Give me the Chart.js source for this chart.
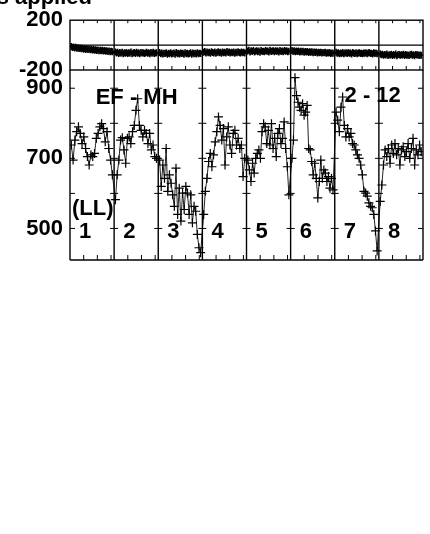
<!DOCTYPE html>
<html><head><meta charset="utf-8">
<script src="https://cdn.jsdelivr.net/npm/chart.js@4"></script>
<style>
html,body{margin:0;padding:0;background:#fff;width:430px;height:534px;overflow:hidden}
canvas{position:absolute;left:0;top:0}
</style></head><body>
<canvas id="topChart" width="430" height="534"></canvas>
<canvas id="botChart" width="430" height="534"></canvas>
<script>
// ---- labels ----
const segmentNames = ['1','2','3','4','5','6','7','8'];
const topTickValues = [-200, 200];
const topTickLabels = ['-200', '200'];
const bottomTickValues = [500, 600, 700, 800, 900];
const bottomTickLabels = ['500', '', '700', '', '900'];
const titleText = 's applied';
const pairLabel = 'EF - MH';
const rangeLabel = '2 - 12';
const noteLabel = '(LL)';

// ---- top panel: differences per segment ----
const diffSeg1 = [-12,-20,-16,-24,-18,-26,-21,-28,-24,-30,-26,-33,-28,-35,-30,-36,-32,-38,-34,-40,-36,-41,-37,-43,-39,-45,-41,-46,-42,-48,-44,-50,-46,-51,-47,-53,-49,-54];
const diffSeg2 = [-55,-64,-58,-68,-60,-66,-57,-70,-62,-65,-59,-68,-61,-66,-56,-69,-63,-60,-67,-58,-65,-62,-70,-59,-64,-61,-67,-63,-58,-66,-62,-69,-60,-65,-57,-68,-63,-61];
const diffSeg3 = [-60,-70,-63,-72,-65,-68,-61,-74,-66,-70,-62,-71,-67,-64,-73,-60,-69,-65,-72,-63,-68,-66,-74,-62,-70,-65,-71,-67,-61,-73,-64,-69,-66,-72,-62,-70,-65,-68];
const diffSeg4 = [-58,-52,-64,-55,-62,-57,-66,-54,-60,-63,-56,-65,-59,-53,-62,-58,-66,-55,-61,-57,-64,-52,-60,-56,-63,-58,-61,-55,-65,-57,-62,-54,-60,-64,-56,-61,-58,-63];
const diffSeg5 = [-48,-42,-55,-46,-52,-44,-56,-49,-45,-53,-47,-58,-43,-51,-49,-54,-44,-50,-47,-55,-42,-52,-48,-46,-53,-45,-50,-47,-56,-44,-51,-48,-54,-43,-50,-46,-53,-49];
const diffSeg6 = [-44,-51,-46,-54,-48,-52,-47,-56,-50,-54,-49,-57,-52,-55,-51,-59,-54,-57,-53,-61,-56,-59,-55,-63,-58,-61,-57,-64,-60,-62,-58,-66,-61,-64,-60,-67,-63,-65];
const diffSeg7 = [-58,-66,-61,-69,-63,-67,-60,-70,-64,-62,-68,-59,-66,-63,-71,-60,-65,-68,-62,-70,-64,-61,-67,-65,-69,-63,-66,-62,-70,-64,-60,-68,-65,-71,-62,-67,-64,-69];
const diffSeg8 = [-70,-78,-73,-82,-75,-80,-72,-84,-77,-79,-74,-83,-76,-81,-72,-85,-78,-75,-82,-77,-80,-74,-84,-76,-81,-79,-83,-77,-73,-82,-78,-85,-75,-80,-77,-84,-79,-81];

// ---- bottom panel: values per segment ----
const ampSeg1 = [738,695,752,776,790,771,742,761,728,705,681,710,705,714,757,771,790,799,785,747,776,728,695,653];
const ampSeg2 = [582,653,695,752,759,724,686,757,761,742,776,794,837,870,794,780,761,780,771,742,771,724,738,705,700];
const ampSeg3 = [695,620,681,643,728,606,653,629,596,563,672,540,615,521,601,554,620,601,540,596,516,563,549,483,445,431];
const ampSeg4 = [540,606,643,691,714,676,710,747,776,818,794,752,785,681,761,790,738,714,771,780,738,757,728,738,648,700];
const ampSeg5 = [695,667,634,686,658,700,714,724,700,776,799,790,742,780,738,799,728,757,705,771,785,742,757,804,728,676,596];
const ampSeg6 = [700,752,930,879,860,846,837,856,823,832,851,728,724,691,653,686,643,587,634,695,643,667,658,634,648,615,643,610];
const ampSeg7 = [832,809,776,846,875,794,761,785,761,771,742,738,724,710,700,681,653,606,601,592,573,563,559,540,493,436];
const ampSeg8 = [577,624,681,724,705,728,686,738,714,742,710,728,681,724,733,705,719,742,700,728,757,681,724,710,738,719];

const diffSegments = [diffSeg1,diffSeg2,diffSeg3,diffSeg4,diffSeg5,diffSeg6,diffSeg7,diffSeg8];
const ampSegments = [ampSeg1,ampSeg2,ampSeg3,ampSeg4,ampSeg5,ampSeg6,ampSeg7,ampSeg8];

function buildPoints(segs) {
  const pts = [];
  segs.forEach((arr, s) => {
    const n = arr.length;
    arr.forEach((v, i) => pts.push({x: s + 0.03 + 0.93 * i / (n - 1), y: v}));
  });
  return pts;
}

const FONT = 'Liberation Sans, Arial, Helvetica, sans-serif';
const minorOffsets = [0.31, 0.62, 0.93];

function seg(ctx, x1, y1, x2, y2) {
  ctx.beginPath(); ctx.moveTo(x1, y1); ctx.lineTo(x2, y2); ctx.stroke();
}

const topFrame = {
  id: 'topFrame',
  afterDraw(chart) {
    const {ctx, chartArea: a, scales: {x, y}} = chart;
    ctx.save();
    ctx.strokeStyle = '#000'; ctx.lineWidth = 1.4;
    ctx.strokeRect(a.left, a.top, a.right - a.left, a.bottom - a.top);
    const y0 = y.getPixelForValue(0);
    seg(ctx, a.left, y0, a.right, y0);
    for (let s = 1; s < 8; s++) { const px = x.getPixelForValue(s); seg(ctx, px, a.top, px, a.bottom); }
    ctx.lineWidth = 1;
    for (let s = 0; s < 8; s++) for (const o of minorOffsets) {
      const px = x.getPixelForValue(s + o);
      seg(ctx, px, a.top, px, a.top + 3);
      seg(ctx, px, a.bottom, px, a.bottom - 4);
    }
    ctx.fillStyle = '#000';
    ctx.font = 'bold 22px ' + FONT;
    ctx.textAlign = 'right'; ctx.textBaseline = 'alphabetic';
    ctx.fillText(titleText, 92, 4);
    ctx.restore();
  }
};

const bottomFrame = {
  id: 'bottomFrame',
  afterDraw(chart) {
    const {ctx, chartArea: a, scales: {x, y}} = chart;
    ctx.save();
    ctx.strokeStyle = '#000'; ctx.lineWidth = 1.4;
    seg(ctx, a.left, a.top, a.left, a.bottom);
    seg(ctx, a.right, a.top, a.right, a.bottom);
    seg(ctx, a.left, a.bottom, a.right, a.bottom);
    for (let s = 1; s < 8; s++) { const px = x.getPixelForValue(s); seg(ctx, px, a.top, px, a.bottom); }
    ctx.lineWidth = 1;
    for (const v of bottomTickValues) {
      const py = y.getPixelForValue(v);
      seg(ctx, a.left, py, a.left + 5, py);
      seg(ctx, a.right - 5, py, a.right, py);
      for (let s = 1; s < 8; s++) { const px = x.getPixelForValue(s); seg(ctx, px - 4, py, px + 4, py); }
    }
    for (let s = 0; s < 8; s++) for (const o of minorOffsets) {
      const px = x.getPixelForValue(s + o);
      seg(ctx, px, a.bottom, px, a.bottom - 5);
    }
    ctx.fillStyle = '#000';
    ctx.font = 'bold 22px ' + FONT;
    ctx.textBaseline = 'middle';
    ctx.textAlign = 'left';
    segmentNames.forEach((t, s) => ctx.fillText(t, x.getPixelForValue(s) + 9, y.getPixelForValue(489)));
    ctx.fillText(noteLabel, a.left + 2, y.getPixelForValue(555));
    ctx.textAlign = 'center';
    ctx.fillText(pairLabel, x.getPixelForValue(1.51), y.getPixelForValue(872));
    ctx.fillText(rangeLabel, x.getPixelForValue(6.86), y.getPixelForValue(878));
    ctx.restore();
  }
};

function yScale(min, max, values, labels) {
  return {
    min, max,
    border: {display: false},
    grid: {display: false, drawTicks: false},
    afterBuildTicks: (sc) => { sc.ticks = values.map(v => ({value: v})); },
    afterFit: (sc) => { sc.width = 70; },
    ticks: {
      autoSkip: false, padding: 7, color: '#000',
      font: {family: FONT, size: 22, weight: 'bold'},
      callback: (v) => { const i = values.indexOf(v); return i >= 0 ? labels[i] : ''; }
    }
  };
}
const xScale = {type: 'linear', min: 0, max: 8, display: false};

function ds(points, r, w) {
  return {
    data: points, showLine: true, tension: 0,
    borderColor: '#222', borderWidth: 1,
    pointStyle: 'cross', pointRadius: r, pointBorderColor: '#000', pointBorderWidth: w,
    pointBackgroundColor: '#000'
  };
}

const common = {
  responsive: false, animation: false, devicePixelRatio: 1,
  plugins: {legend: {display: false}, tooltip: {enabled: false}, title: {display: false}},
  events: []
};

new Chart(document.getElementById('topChart'), {
  type: 'scatter',
  data: {datasets: [ds(buildPoints(diffSegments), 3.5, 1.6)]},
  options: Object.assign({}, common, {
    layout: {padding: {left: 0, right: 7, top: 16, bottom: 464}},
    scales: {x: xScale, y: yScale(-200, 200, topTickValues, topTickLabels)}
  }),
  plugins: [topFrame]
});

new Chart(document.getElementById('botChart'), {
  type: 'scatter',
  data: {datasets: [ds(buildPoints(ampSegments), 4.5, 1.2)]},
  options: Object.assign({}, common, {
    layout: {padding: {left: 0, right: 7, top: 70, bottom: 274}},
    scales: {x: xScale, y: yScale(410, 952, bottomTickValues, bottomTickLabels)}
  }),
  plugins: [bottomFrame]
});
</script>
</body></html>
